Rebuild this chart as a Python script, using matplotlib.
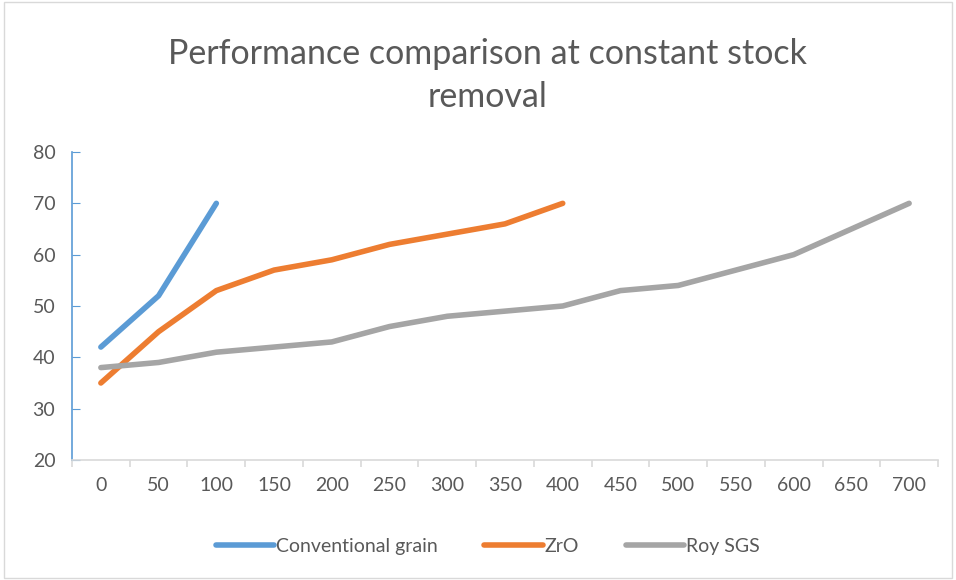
import numpy as np
import matplotlib.pyplot as plt
from matplotlib.patches import Rectangle

# Data
categories = ['0', '50', '100', '150', '200', '250', '300', '350', '400',
              '450', '500', '550', '600', '650', '700']
conventional = [42, 52, 70]
zro = [35, 45, 53, 57, 59, 62, 64, 66, 70]
roy_sgs = [38, 39, 41, 42, 43, 46, 48, 49, 50, 53, 54, 57, 60, 65, 70]

plt.rcParams['font.family'] = ['Lato', 'DejaVu Sans']
txt = '#595959'

fig = plt.figure(figsize=(9.56, 5.8), dpi=100)
fig.patches.append(Rectangle((0.004, 0.004), 0.992, 0.992, transform=fig.transFigure,
                             fill=False, edgecolor='#D9D9D9', linewidth=1))
ax = fig.add_axes([72/956, 1 - 460/580, (938 - 72)/956, (460 - 152)/580])

series = [('Conventional grain', conventional, '#5B9BD5'),
          ('ZrO', zro, '#ED7D31'),
          ('Roy SGS', roy_sgs, '#A5A5A5')]
for name, vals, col in series:
    ax.plot(np.arange(len(vals)), vals, color=col, linewidth=4,
            solid_capstyle='round', solid_joinstyle='round', label=name)

ax.set_xlim(-0.5, len(categories) - 0.5)
ax.set_ylim(20, 80)
ax.set_yticks(range(20, 81, 10))
ax.set_xticks(range(len(categories)))
ax.set_xticklabels(categories)
ax.set_xticks(np.arange(-0.5, len(categories)), minor=True)

for s in ['top', 'right']:
    ax.spines[s].set_visible(False)
ax.spines['left'].set_color('#5B9BD5')
ax.spines['bottom'].set_color('#D9D9D9')
ax.spines['left'].set_linewidth(1.2)
ax.spines['bottom'].set_linewidth(1.2)

ax.tick_params(axis='y', direction='in', length=6, color='#5B9BD5',
               labelsize=14, labelcolor=txt, pad=12)
ax.tick_params(axis='x', which='major', length=0, labelsize=14,
               labelcolor=txt, pad=12)
ax.tick_params(axis='x', which='minor', direction='out', length=5,
               color='#D9D9D9', width=1.2)

fig.text(0.51, 0.87, 'Performance comparison at constant stock\nremoval',
         ha='center', va='center', fontsize=24.5, color=txt, linespacing=1.45)

fig.legend(loc='center', bbox_to_anchor=(0.51, 0.058), ncol=3, frameon=False,
           fontsize=14, handlelength=3.0, handletextpad=0.1, columnspacing=2.4,
           labelcolor=txt)

fig.savefig('out.png', dpi=100)
